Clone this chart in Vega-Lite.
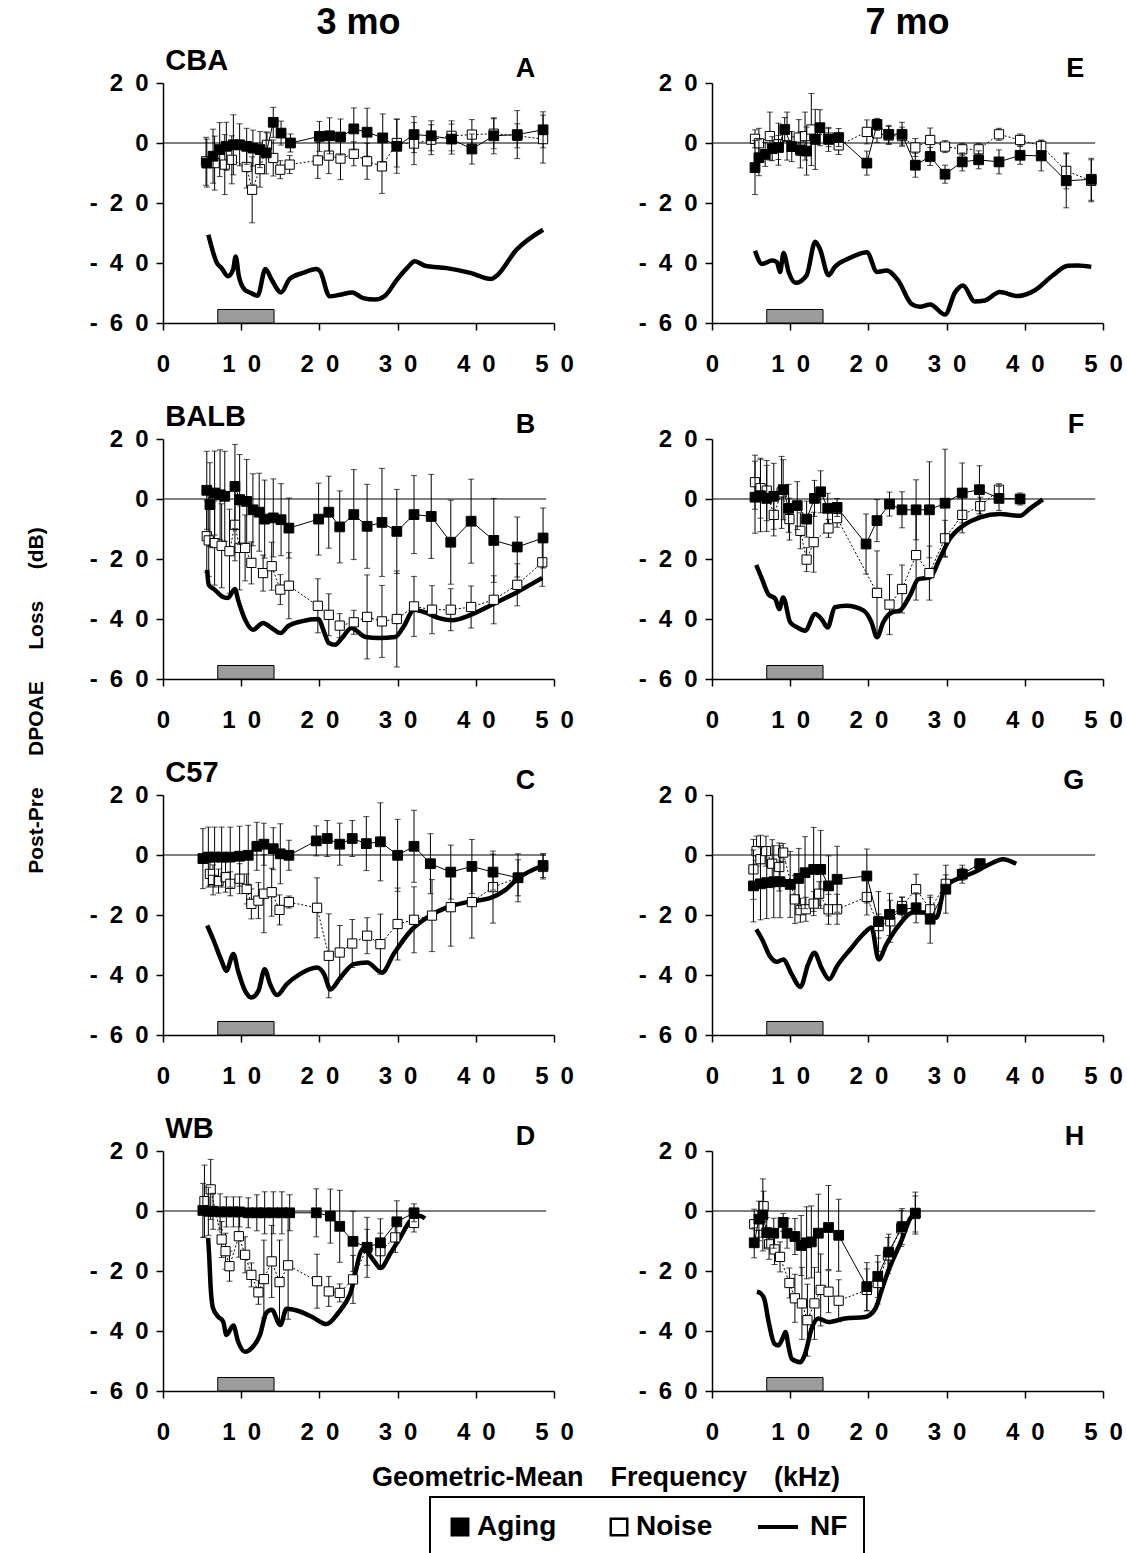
{
"$schema": "https://vega.github.io/schema/vega-lite/v6.json",
"background": "white",
"padding": {"left": 26, "top": 5, "right": 5, "bottom": 0},
"datasets": {
"panels": [
{"p":"A","age":"3 mo","strain":"CBA"},{"p":"B","age":"3 mo","strain":"BALB"},{"p":"C","age":"3 mo","strain":"C57"},{"p":"D","age":"3 mo","strain":"WB"},
{"p":"E","age":"7 mo","strain":"CBA"},{"p":"F","age":"7 mo","strain":"BALB"},{"p":"G","age":"7 mo","strain":"C57"},{"p":"H","age":"7 mo","strain":"WB"}],
"d": [
{"p":"A","s":"lab","n":"CBA","l":"A"},{"p":"B","s":"lab","n":"BALB","l":"B"},{"p":"C","s":"lab","n":"C57","l":"C"},{"p":"D","s":"lab","n":"WB","l":"D"},
{"p":"E","s":"lab","n":"","l":"E"},{"p":"F","s":"lab","n":"","l":"F"},{"p":"G","s":"lab","n":"","l":"G"},{"p":"H","s":"lab","n":"","l":"H"},

{"p":"A","s":"Aging","x":5.6,"y":-6.7,"e":8},{"p":"A","s":"Aging","x":6.4,"y":-4.4,"e":9},{"p":"A","s":"Aging","x":7.25,"y":-2.2,"e":9},{"p":"A","s":"Aging","x":8.1,"y":-1.1,"e":8},{"p":"A","s":"Aging","x":9.0,"y":-0.6,"e":10},{"p":"A","s":"Aging","x":9.8,"y":-0.6,"e":7},{"p":"A","s":"Aging","x":10.7,"y":-1.1,"e":6},{"p":"A","s":"Aging","x":11.5,"y":-1.7,"e":6},{"p":"A","s":"Aging","x":12.4,"y":-2.2,"e":6},{"p":"A","s":"Aging","x":13.2,"y":-3.3,"e":7},{"p":"A","s":"Aging","x":14.1,"y":6.9,"e":5},{"p":"A","s":"Aging","x":15.1,"y":3.3,"e":4},{"p":"A","s":"Aging","x":16.3,"y":0,"e":3},{"p":"A","s":"Aging","x":20.0,"y":2.2,"e":5},{"p":"A","s":"Aging","x":21.3,"y":2.4,"e":6},{"p":"A","s":"Aging","x":22.7,"y":2.0,"e":6},{"p":"A","s":"Aging","x":24.4,"y":4.7,"e":7},{"p":"A","s":"Aging","x":26.1,"y":3.6,"e":8},{"p":"A","s":"Aging","x":28.1,"y":1.7,"e":8},{"p":"A","s":"Aging","x":29.9,"y":-1.1,"e":9},{"p":"A","s":"Aging","x":32.1,"y":2.8,"e":6},{"p":"A","s":"Aging","x":34.3,"y":2.4,"e":5},{"p":"A","s":"Aging","x":36.9,"y":1.3,"e":5},{"p":"A","s":"Aging","x":39.5,"y":-2.0,"e":5},{"p":"A","s":"Aging","x":42.3,"y":2.4,"e":6},{"p":"A","s":"Aging","x":45.3,"y":2.8,"e":8},{"p":"A","s":"Aging","x":48.6,"y":4.4,"e":6},
{"p":"A","s":"Noise","x":5.5,"y":-6.1,"e":8},{"p":"A","s":"Noise","x":6.6,"y":-6.7,"e":9},{"p":"A","s":"Noise","x":7.9,"y":-7.2,"e":10},{"p":"A","s":"Noise","x":8.8,"y":-5.6,"e":8},{"p":"A","s":"Noise","x":10.7,"y":-8,"e":7},{"p":"A","s":"Noise","x":11.4,"y":-15.6,"e":11},{"p":"A","s":"Noise","x":12.4,"y":-8.7,"e":6},{"p":"A","s":"Noise","x":13.3,"y":-0.6,"e":4},{"p":"A","s":"Noise","x":14.1,"y":-5,"e":6},{"p":"A","s":"Noise","x":15.0,"y":-8.9,"e":3},{"p":"A","s":"Noise","x":16.2,"y":-7.2,"e":3},{"p":"A","s":"Noise","x":19.8,"y":-5.8,"e":6},{"p":"A","s":"Noise","x":21.2,"y":-4.2,"e":6},{"p":"A","s":"Noise","x":22.7,"y":-5.2,"e":7},{"p":"A","s":"Noise","x":24.4,"y":-3.6,"e":4},{"p":"A","s":"Noise","x":26.1,"y":-6.1,"e":6},{"p":"A","s":"Noise","x":28.0,"y":-7.8,"e":9},{"p":"A","s":"Noise","x":29.9,"y":0,"e":8},{"p":"A","s":"Noise","x":32.1,"y":-0.2,"e":7},{"p":"A","s":"Noise","x":34.3,"y":1.1,"e":5},{"p":"A","s":"Noise","x":36.9,"y":2.4,"e":5},{"p":"A","s":"Noise","x":39.5,"y":2.8,"e":5},{"p":"A","s":"Noise","x":42.3,"y":3.1,"e":5},{"p":"A","s":"Noise","x":45.3,"y":2.4,"e":4},{"p":"A","s":"Noise","x":48.6,"y":1.3,"e":8},
{"p":"A","s":"NF","x":5.8,"y":-30.6},{"p":"A","s":"NF","x":6.9,"y":-40},{"p":"A","s":"NF","x":7.5,"y":-41.7},{"p":"A","s":"NF","x":8.3,"y":-44.4},{"p":"A","s":"NF","x":8.96,"y":-42.2},{"p":"A","s":"NF","x":9.3,"y":-37.8},{"p":"A","s":"NF","x":9.7,"y":-44.4},{"p":"A","s":"NF","x":10.45,"y":-48.9},{"p":"A","s":"NF","x":11.1,"y":-49.8},{"p":"A","s":"NF","x":12.1,"y":-50.9},{"p":"A","s":"NF","x":13.1,"y":-42},{"p":"A","s":"NF","x":13.9,"y":-45.6},{"p":"A","s":"NF","x":15.1,"y":-49.8},{"p":"A","s":"NF","x":16.2,"y":-45.3},{"p":"A","s":"NF","x":17.9,"y":-43.3},{"p":"A","s":"NF","x":19.6,"y":-42},{"p":"A","s":"NF","x":20.1,"y":-42.8},{"p":"A","s":"NF","x":21.3,"y":-51.1},{"p":"A","s":"NF","x":22.6,"y":-50.6},{"p":"A","s":"NF","x":24.2,"y":-49.8},{"p":"A","s":"NF","x":25.6,"y":-51.7},{"p":"A","s":"NF","x":27.1,"y":-52.2},{"p":"A","s":"NF","x":28.4,"y":-50.9},{"p":"A","s":"NF","x":29.9,"y":-45.6},{"p":"A","s":"NF","x":31.2,"y":-41.7},{"p":"A","s":"NF","x":32.2,"y":-39.4},{"p":"A","s":"NF","x":33.5,"y":-40.9},{"p":"A","s":"NF","x":36.3,"y":-41.7},{"p":"A","s":"NF","x":39.3,"y":-43.3},{"p":"A","s":"NF","x":42.0,"y":-45.3},{"p":"A","s":"NF","x":42.6,"y":-44.4},{"p":"A","s":"NF","x":45.2,"y":-35.6},{"p":"A","s":"NF","x":48.6,"y":-28.9},

{"p":"E","s":"Aging","x":5.5,"y":-8.2,"e":9},{"p":"E","s":"Aging","x":6.0,"y":-4.9,"e":6},{"p":"E","s":"Aging","x":6.8,"y":-3.8,"e":4},{"p":"E","s":"Aging","x":7.7,"y":-1.9,"e":4},{"p":"E","s":"Aging","x":8.5,"y":-1.5,"e":4},{"p":"E","s":"Aging","x":9.3,"y":4.5,"e":4},{"p":"E","s":"Aging","x":10.2,"y":-1.2,"e":5},{"p":"E","s":"Aging","x":11.3,"y":-2.3,"e":6},{"p":"E","s":"Aging","x":12.1,"y":-2.7,"e":8},{"p":"E","s":"Aging","x":13.2,"y":1.2,"e":10},{"p":"E","s":"Aging","x":13.8,"y":5.1,"e":6},{"p":"E","s":"Aging","x":14.9,"y":1.2,"e":4},{"p":"E","s":"Aging","x":16.2,"y":1.8,"e":3},{"p":"E","s":"Aging","x":19.8,"y":-6.7,"e":4},{"p":"E","s":"Aging","x":21.1,"y":6.2,"e":2},{"p":"E","s":"Aging","x":22.6,"y":2.9,"e":3},{"p":"E","s":"Aging","x":24.3,"y":2.9,"e":4},{"p":"E","s":"Aging","x":26.0,"y":-7.4,"e":4},{"p":"E","s":"Aging","x":27.9,"y":-4.5,"e":3},{"p":"E","s":"Aging","x":29.8,"y":-10.4,"e":3},{"p":"E","s":"Aging","x":32.0,"y":-6.3,"e":3},{"p":"E","s":"Aging","x":34.1,"y":-5.6,"e":3},{"p":"E","s":"Aging","x":36.7,"y":-6.3,"e":4},{"p":"E","s":"Aging","x":39.4,"y":-4.1,"e":3},{"p":"E","s":"Aging","x":42.1,"y":-4.3,"e":5},{"p":"E","s":"Aging","x":45.3,"y":-12.6,"e":9},{"p":"E","s":"Aging","x":48.5,"y":-12.1,"e":7},
{"p":"E","s":"Noise","x":5.5,"y":1.4,"e":3},{"p":"E","s":"Noise","x":6.0,"y":-0.1,"e":5},{"p":"E","s":"Noise","x":7.4,"y":2.3,"e":8},{"p":"E","s":"Noise","x":8.5,"y":-0.4,"e":7},{"p":"E","s":"Noise","x":9.6,"y":2.3,"e":8},{"p":"E","s":"Noise","x":11.1,"y":1.8,"e":6},{"p":"E","s":"Noise","x":11.9,"y":2.3,"e":8},{"p":"E","s":"Noise","x":12.7,"y":4.5,"e":12},{"p":"E","s":"Noise","x":14.9,"y":1.8,"e":3},{"p":"E","s":"Noise","x":16.2,"y":-0.8,"e":3},{"p":"E","s":"Noise","x":19.8,"y":3.7,"e":4},{"p":"E","s":"Noise","x":21.1,"y":3.2,"e":3},{"p":"E","s":"Noise","x":22.6,"y":2.5,"e":3},{"p":"E","s":"Noise","x":24.3,"y":2.3,"e":3},{"p":"E","s":"Noise","x":26.0,"y":-1.5,"e":3},{"p":"E","s":"Noise","x":27.9,"y":1.0,"e":4},{"p":"E","s":"Noise","x":29.8,"y":-1.2,"e":2},{"p":"E","s":"Noise","x":32.0,"y":-2.1,"e":2},{"p":"E","s":"Noise","x":34.1,"y":-2.1,"e":2},{"p":"E","s":"Noise","x":36.7,"y":2.9,"e":2},{"p":"E","s":"Noise","x":39.4,"y":1.0,"e":2},{"p":"E","s":"Noise","x":42.1,"y":-1.0,"e":2},{"p":"E","s":"Noise","x":45.3,"y":-9.3,"e":6},{"p":"E","s":"Noise","x":48.5,"y":-12.6,"e":7},
{"p":"E","s":"NF","x":5.5,"y":-35.9},{"p":"E","s":"NF","x":6.4,"y":-40.3},{"p":"E","s":"NF","x":7.7,"y":-39.2},{"p":"E","s":"NF","x":8.3,"y":-39.7},{"p":"E","s":"NF","x":8.7,"y":-43},{"p":"E","s":"NF","x":9.15,"y":-36.7},{"p":"E","s":"NF","x":9.8,"y":-43},{"p":"E","s":"NF","x":10.7,"y":-46.6},{"p":"E","s":"NF","x":12.1,"y":-44.1},{"p":"E","s":"NF","x":13.2,"y":-32.9},{"p":"E","s":"NF","x":13.8,"y":-35.3},{"p":"E","s":"NF","x":14.9,"y":-44.1},{"p":"E","s":"NF","x":15.7,"y":-41.3},{"p":"E","s":"NF","x":17.4,"y":-38.6},{"p":"E","s":"NF","x":19.8,"y":-36.4},{"p":"E","s":"NF","x":21.1,"y":-43},{"p":"E","s":"NF","x":22.3,"y":-42.5},{"p":"E","s":"NF","x":23.8,"y":-45.8},{"p":"E","s":"NF","x":25.5,"y":-53.6},{"p":"E","s":"NF","x":26.6,"y":-54.6},{"p":"E","s":"NF","x":27.9,"y":-53.8},{"p":"E","s":"NF","x":29.8,"y":-57.2},{"p":"E","s":"NF","x":31.1,"y":-49.7},{"p":"E","s":"NF","x":32.1,"y":-47.5},{"p":"E","s":"NF","x":33.6,"y":-52.8},{"p":"E","s":"NF","x":34.9,"y":-52.5},{"p":"E","s":"NF","x":36.8,"y":-49.7},{"p":"E","s":"NF","x":39.1,"y":-51},{"p":"E","s":"NF","x":41.3,"y":-49.1},{"p":"E","s":"NF","x":43.6,"y":-44.1},{"p":"E","s":"NF","x":45.5,"y":-40.9},{"p":"E","s":"NF","x":46.8,"y":-40.8},{"p":"E","s":"NF","x":48.5,"y":-41.3},

{"p":"B","s":"Aging","x":5.6,"y":2.9,"e":13},{"p":"B","s":"Aging","x":6.0,"y":-1.9,"e":14},{"p":"B","s":"Aging","x":6.6,"y":2,"e":14},{"p":"B","s":"Aging","x":7.3,"y":1.4,"e":15},{"p":"B","s":"Aging","x":7.9,"y":0.9,"e":15},{"p":"B","s":"Aging","x":9.2,"y":4.2,"e":14},{"p":"B","s":"Aging","x":9.8,"y":-0.2,"e":15},{"p":"B","s":"Aging","x":10.7,"y":-0.8,"e":14},{"p":"B","s":"Aging","x":11.5,"y":-3.6,"e":12},{"p":"B","s":"Aging","x":12.3,"y":-4.4,"e":13},{"p":"B","s":"Aging","x":13.0,"y":-6.7,"e":13},{"p":"B","s":"Aging","x":14.1,"y":-6.3,"e":13},{"p":"B","s":"Aging","x":15.1,"y":-6.9,"e":12},{"p":"B","s":"Aging","x":16.1,"y":-9.7,"e":10},{"p":"B","s":"Aging","x":19.9,"y":-6.7,"e":12},{"p":"B","s":"Aging","x":21.2,"y":-4.4,"e":12},{"p":"B","s":"Aging","x":22.6,"y":-9.3,"e":12},{"p":"B","s":"Aging","x":24.4,"y":-5.2,"e":15},{"p":"B","s":"Aging","x":26.1,"y":-9.1,"e":14},{"p":"B","s":"Aging","x":28.0,"y":-7.8,"e":18},{"p":"B","s":"Aging","x":29.9,"y":-10.8,"e":14},{"p":"B","s":"Aging","x":32.1,"y":-5.2,"e":13},{"p":"B","s":"Aging","x":34.3,"y":-5.8,"e":14},{"p":"B","s":"Aging","x":36.8,"y":-14.4,"e":14},{"p":"B","s":"Aging","x":39.4,"y":-7.4,"e":14},{"p":"B","s":"Aging","x":42.3,"y":-13.8,"e":14},{"p":"B","s":"Aging","x":45.3,"y":-16,"e":10},{"p":"B","s":"Aging","x":48.6,"y":-13,"e":10},
{"p":"B","s":"Noise","x":5.6,"y":-12.4,"e":12},{"p":"B","s":"Noise","x":5.85,"y":-13.8,"e":12},{"p":"B","s":"Noise","x":6.6,"y":-14.7,"e":14},{"p":"B","s":"Noise","x":7.5,"y":-15.6,"e":14},{"p":"B","s":"Noise","x":8.5,"y":-17.4,"e":14},{"p":"B","s":"Noise","x":9.2,"y":-8.6,"e":12},{"p":"B","s":"Noise","x":9.8,"y":-16.3,"e":14},{"p":"B","s":"Noise","x":10.5,"y":-16.3,"e":11},{"p":"B","s":"Noise","x":11.3,"y":-21.3,"e":7},{"p":"B","s":"Noise","x":12.8,"y":-24.7,"e":6},{"p":"B","s":"Noise","x":13.9,"y":-22.4,"e":8},{"p":"B","s":"Noise","x":15.0,"y":-30.2,"e":5},{"p":"B","s":"Noise","x":16.1,"y":-28.9,"e":11},{"p":"B","s":"Noise","x":19.8,"y":-35.6,"e":9},{"p":"B","s":"Noise","x":21.2,"y":-38.6,"e":7},{"p":"B","s":"Noise","x":22.6,"y":-42.2,"e":4},{"p":"B","s":"Noise","x":24.4,"y":-41.1,"e":4},{"p":"B","s":"Noise","x":26.1,"y":-39.3,"e":14},{"p":"B","s":"Noise","x":28.0,"y":-40.8,"e":12},{"p":"B","s":"Noise","x":29.9,"y":-40,"e":16},{"p":"B","s":"Noise","x":32.1,"y":-35.8,"e":10},{"p":"B","s":"Noise","x":34.4,"y":-36.9,"e":8},{"p":"B","s":"Noise","x":36.8,"y":-36.9,"e":7},{"p":"B","s":"Noise","x":39.4,"y":-36,"e":7},{"p":"B","s":"Noise","x":42.3,"y":-33.6,"e":8},{"p":"B","s":"Noise","x":45.3,"y":-28.6,"e":7},{"p":"B","s":"Noise","x":48.5,"y":-21.1,"e":8},
{"p":"B","s":"NF","x":5.64,"y":-23.6},{"p":"B","s":"NF","x":5.85,"y":-28.6},{"p":"B","s":"NF","x":6.6,"y":-30.2},{"p":"B","s":"NF","x":7.5,"y":-32.4},{"p":"B","s":"NF","x":8.3,"y":-33},{"p":"B","s":"NF","x":9.2,"y":-30},{"p":"B","s":"NF","x":9.6,"y":-33.6},{"p":"B","s":"NF","x":10.5,"y":-40.2},{"p":"B","s":"NF","x":11.5,"y":-43.6},{"p":"B","s":"NF","x":12.8,"y":-41.3},{"p":"B","s":"NF","x":13.9,"y":-43},{"p":"B","s":"NF","x":15.0,"y":-44.7},{"p":"B","s":"NF","x":16.0,"y":-42.4},{"p":"B","s":"NF","x":17.7,"y":-40.8},{"p":"B","s":"NF","x":19.9,"y":-40},{"p":"B","s":"NF","x":20.5,"y":-43.6},{"p":"B","s":"NF","x":21.2,"y":-48},{"p":"B","s":"NF","x":22.0,"y":-48.6},{"p":"B","s":"NF","x":22.9,"y":-46.3},{"p":"B","s":"NF","x":24.1,"y":-43},{"p":"B","s":"NF","x":25.9,"y":-46},{"p":"B","s":"NF","x":27.6,"y":-46.3},{"p":"B","s":"NF","x":29.7,"y":-46},{"p":"B","s":"NF","x":30.8,"y":-42.4},{"p":"B","s":"NF","x":32.1,"y":-36.9},{"p":"B","s":"NF","x":33.5,"y":-37.8},{"p":"B","s":"NF","x":35.3,"y":-39.7},{"p":"B","s":"NF","x":37.0,"y":-40.4},{"p":"B","s":"NF","x":39.1,"y":-38.9},{"p":"B","s":"NF","x":42.1,"y":-35.2},{"p":"B","s":"NF","x":45.1,"y":-31.3},{"p":"B","s":"NF","x":48.5,"y":-26.3},

{"p":"F","s":"Aging","x":5.5,"y":0.6,"e":12},{"p":"F","s":"Aging","x":6.2,"y":1.1,"e":12},{"p":"F","s":"Aging","x":7.0,"y":0.2,"e":11},{"p":"F","s":"Aging","x":7.9,"y":0.9,"e":11},{"p":"F","s":"Aging","x":9.1,"y":3.1,"e":10},{"p":"F","s":"Aging","x":9.8,"y":-3.1,"e":8},{"p":"F","s":"Aging","x":10.9,"y":-2.2,"e":8},{"p":"F","s":"Aging","x":12.1,"y":-6.7,"e":6},{"p":"F","s":"Aging","x":13.1,"y":0.2,"e":6},{"p":"F","s":"Aging","x":13.9,"y":2.4,"e":7},{"p":"F","s":"Aging","x":14.8,"y":-3.1,"e":5},{"p":"F","s":"Aging","x":16.0,"y":-2.8,"e":3},{"p":"F","s":"Aging","x":19.7,"y":-15,"e":10},{"p":"F","s":"Aging","x":21.1,"y":-7.2,"e":7},{"p":"F","s":"Aging","x":22.7,"y":-1.7,"e":4},{"p":"F","s":"Aging","x":24.3,"y":-3.6,"e":6},{"p":"F","s":"Aging","x":26.1,"y":-3.6,"e":10},{"p":"F","s":"Aging","x":27.8,"y":-3.6,"e":16},{"p":"F","s":"Aging","x":29.8,"y":-1.4,"e":18},{"p":"F","s":"Aging","x":32.0,"y":2,"e":10},{"p":"F","s":"Aging","x":34.2,"y":3.1,"e":8},{"p":"F","s":"Aging","x":36.7,"y":0.2,"e":4},{"p":"F","s":"Aging","x":39.4,"y":0,"e":2},
{"p":"F","s":"Noise","x":5.5,"y":5.6,"e":9},{"p":"F","s":"Noise","x":6.2,"y":3.6,"e":10},{"p":"F","s":"Noise","x":7.0,"y":2.8,"e":10},{"p":"F","s":"Noise","x":7.9,"y":-5.3,"e":7},{"p":"F","s":"Noise","x":8.9,"y":2.2,"e":12},{"p":"F","s":"Noise","x":9.9,"y":-6.7,"e":7},{"p":"F","s":"Noise","x":11.3,"y":-10.6,"e":6},{"p":"F","s":"Noise","x":12.1,"y":-20.2,"e":4},{"p":"F","s":"Noise","x":13.0,"y":-14.4,"e":10},{"p":"F","s":"Noise","x":14.9,"y":-9.8,"e":3},{"p":"F","s":"Noise","x":16.0,"y":-6.4,"e":3},{"p":"F","s":"Noise","x":21.1,"y":-31.3,"e":14},{"p":"F","s":"Noise","x":22.7,"y":-35.2,"e":10},{"p":"F","s":"Noise","x":24.3,"y":-30,"e":8},{"p":"F","s":"Noise","x":26.1,"y":-18.7,"e":15},{"p":"F","s":"Noise","x":27.8,"y":-24.7,"e":9},{"p":"F","s":"Noise","x":29.8,"y":-13.1,"e":6},{"p":"F","s":"Noise","x":32.0,"y":-5.3,"e":6},{"p":"F","s":"Noise","x":34.3,"y":-2.4,"e":3},{"p":"F","s":"Noise","x":36.7,"y":3.1,"e":2},
{"p":"F","s":"NF","x":5.66,"y":-22},{"p":"F","s":"NF","x":6.4,"y":-26.7},{"p":"F","s":"NF","x":7.2,"y":-31.7},{"p":"F","s":"NF","x":8.1,"y":-33.3},{"p":"F","s":"NF","x":8.6,"y":-36.7},{"p":"F","s":"NF","x":9.1,"y":-32.8},{"p":"F","s":"NF","x":10.0,"y":-41.1},{"p":"F","s":"NF","x":10.9,"y":-42.8},{"p":"F","s":"NF","x":11.9,"y":-43.9},{"p":"F","s":"NF","x":13.2,"y":-38.3},{"p":"F","s":"NF","x":14.0,"y":-40},{"p":"F","s":"NF","x":14.8,"y":-42.8},{"p":"F","s":"NF","x":15.7,"y":-36.1},{"p":"F","s":"NF","x":17.2,"y":-35.6},{"p":"F","s":"NF","x":19.4,"y":-37.2},{"p":"F","s":"NF","x":20.4,"y":-41.1},{"p":"F","s":"NF","x":21.1,"y":-46.1},{"p":"F","s":"NF","x":21.9,"y":-41.1},{"p":"F","s":"NF","x":23.0,"y":-37.8},{"p":"F","s":"NF","x":24.0,"y":-37.2},{"p":"F","s":"NF","x":25.3,"y":-32.2},{"p":"F","s":"NF","x":26.4,"y":-26.7},{"p":"F","s":"NF","x":27.9,"y":-26.1},{"p":"F","s":"NF","x":29.1,"y":-20},{"p":"F","s":"NF","x":30.4,"y":-13.3},{"p":"F","s":"NF","x":32.1,"y":-8.9},{"p":"F","s":"NF","x":34.3,"y":-6.1},{"p":"F","s":"NF","x":36.8,"y":-5},{"p":"F","s":"NF","x":39.4,"y":-5.6},{"p":"F","s":"NF","x":40.6,"y":-3.3},{"p":"F","s":"NF","x":42.3,"y":-0.2},

{"p":"C","s":"Aging","x":5.1,"y":-1.2,"e":10},{"p":"C","s":"Aging","x":5.8,"y":-0.7,"e":10},{"p":"C","s":"Aging","x":6.6,"y":-0.7,"e":10},{"p":"C","s":"Aging","x":7.5,"y":-0.7,"e":10},{"p":"C","s":"Aging","x":8.6,"y":-0.7,"e":10},{"p":"C","s":"Aging","x":9.8,"y":-0.4,"e":10},{"p":"C","s":"Aging","x":10.9,"y":-0.1,"e":10},{"p":"C","s":"Aging","x":12.0,"y":2.9,"e":8},{"p":"C","s":"Aging","x":12.9,"y":3.6,"e":7},{"p":"C","s":"Aging","x":14.1,"y":2.1,"e":7},{"p":"C","s":"Aging","x":15.0,"y":0.4,"e":10},{"p":"C","s":"Aging","x":16.1,"y":-0.1,"e":5},{"p":"C","s":"Aging","x":19.6,"y":4.7,"e":5},{"p":"C","s":"Aging","x":21.0,"y":5.5,"e":6},{"p":"C","s":"Aging","x":22.6,"y":3.6,"e":7},{"p":"C","s":"Aging","x":24.2,"y":5.5,"e":6},{"p":"C","s":"Aging","x":26.0,"y":3.8,"e":9},{"p":"C","s":"Aging","x":27.8,"y":4.4,"e":13},{"p":"C","s":"Aging","x":30.0,"y":-0.1,"e":12},{"p":"C","s":"Aging","x":32.1,"y":2.9,"e":12},{"p":"C","s":"Aging","x":34.2,"y":-2.9,"e":10},{"p":"C","s":"Aging","x":36.8,"y":-5.7,"e":9},{"p":"C","s":"Aging","x":39.5,"y":-3.8,"e":9},{"p":"C","s":"Aging","x":42.2,"y":-5.7,"e":6},{"p":"C","s":"Aging","x":45.4,"y":-7.6,"e":6},{"p":"C","s":"Aging","x":48.6,"y":-3.5,"e":4},
{"p":"C","s":"Noise","x":6.0,"y":-6.3,"e":4},{"p":"C","s":"Noise","x":6.4,"y":-8.3,"e":5},{"p":"C","s":"Noise","x":7.1,"y":-8.7,"e":4},{"p":"C","s":"Noise","x":8.0,"y":-7.4,"e":5},{"p":"C","s":"Noise","x":8.6,"y":-9.6,"e":4},{"p":"C","s":"Noise","x":9.8,"y":-7.9,"e":5},{"p":"C","s":"Noise","x":10.7,"y":-11.3,"e":5},{"p":"C","s":"Noise","x":11.3,"y":-16.3,"e":5},{"p":"C","s":"Noise","x":12.2,"y":-15.2,"e":6},{"p":"C","s":"Noise","x":12.9,"y":-12.9,"e":13},{"p":"C","s":"Noise","x":13.9,"y":-12.4,"e":8},{"p":"C","s":"Noise","x":14.9,"y":-18.3,"e":5},{"p":"C","s":"Noise","x":16.1,"y":-15.7,"e":2},{"p":"C","s":"Noise","x":19.7,"y":-17.6,"e":10},{"p":"C","s":"Noise","x":21.2,"y":-33.6,"e":14},{"p":"C","s":"Noise","x":22.6,"y":-32.5,"e":9},{"p":"C","s":"Noise","x":24.2,"y":-29.5,"e":8},{"p":"C","s":"Noise","x":26.1,"y":-26.9,"e":6},{"p":"C","s":"Noise","x":27.8,"y":-29.7,"e":10},{"p":"C","s":"Noise","x":30.0,"y":-23,"e":12},{"p":"C","s":"Noise","x":32.1,"y":-21.6,"e":11},{"p":"C","s":"Noise","x":34.4,"y":-20.2,"e":12},{"p":"C","s":"Noise","x":36.8,"y":-17.4,"e":13},{"p":"C","s":"Noise","x":39.5,"y":-15.7,"e":12},{"p":"C","s":"Noise","x":42.2,"y":-10.7,"e":12},{"p":"C","s":"Noise","x":45.4,"y":-7.6,"e":8},{"p":"C","s":"Noise","x":48.6,"y":-4.0,"e":4},
{"p":"C","s":"NF","x":5.65,"y":-23.5},{"p":"C","s":"NF","x":6.4,"y":-28},{"p":"C","s":"NF","x":7.5,"y":-35.3},{"p":"C","s":"NF","x":8.1,"y":-38.6},{"p":"C","s":"NF","x":9.0,"y":-33},{"p":"C","s":"NF","x":9.6,"y":-38.6},{"p":"C","s":"NF","x":10.5,"y":-45.3},{"p":"C","s":"NF","x":11.3,"y":-47.5},{"p":"C","s":"NF","x":12.2,"y":-45.3},{"p":"C","s":"NF","x":13.0,"y":-38.1},{"p":"C","s":"NF","x":13.7,"y":-43.1},{"p":"C","s":"NF","x":14.6,"y":-46.7},{"p":"C","s":"NF","x":15.8,"y":-43.1},{"p":"C","s":"NF","x":17.5,"y":-39.7},{"p":"C","s":"NF","x":19.7,"y":-37.5},{"p":"C","s":"NF","x":20.6,"y":-39.7},{"p":"C","s":"NF","x":21.4,"y":-44.8},{"p":"C","s":"NF","x":22.7,"y":-40.8},{"p":"C","s":"NF","x":24.4,"y":-36.4},{"p":"C","s":"NF","x":26.1,"y":-35.8},{"p":"C","s":"NF","x":28.0,"y":-39.2},{"p":"C","s":"NF","x":29.5,"y":-33},{"p":"C","s":"NF","x":31.7,"y":-25.2},{"p":"C","s":"NF","x":33.8,"y":-20.8},{"p":"C","s":"NF","x":36.4,"y":-17.4},{"p":"C","s":"NF","x":38.9,"y":-15.7},{"p":"C","s":"NF","x":41.9,"y":-14.3},{"p":"C","s":"NF","x":43.7,"y":-11.8},{"p":"C","s":"NF","x":45.4,"y":-7.8},{"p":"C","s":"NF","x":48.6,"y":-3.5},

{"p":"G","s":"Aging","x":5.3,"y":-10.3,"e":12},{"p":"G","s":"Aging","x":6.2,"y":-9.6,"e":12},{"p":"G","s":"Aging","x":7.0,"y":-9.2,"e":12},{"p":"G","s":"Aging","x":7.9,"y":-8.9,"e":12},{"p":"G","s":"Aging","x":8.7,"y":-8.9,"e":12},{"p":"G","s":"Aging","x":10.0,"y":-9.8,"e":11},{"p":"G","s":"Aging","x":11.1,"y":-7.8,"e":10},{"p":"G","s":"Aging","x":11.9,"y":-5.9,"e":12},{"p":"G","s":"Aging","x":13.0,"y":-4.8,"e":14},{"p":"G","s":"Aging","x":13.9,"y":-4.8,"e":13},{"p":"G","s":"Aging","x":14.9,"y":-10.3,"e":10},{"p":"G","s":"Aging","x":16.0,"y":-8.1,"e":11},{"p":"G","s":"Aging","x":19.8,"y":-7,"e":9},{"p":"G","s":"Aging","x":21.3,"y":-22.2,"e":10},{"p":"G","s":"Aging","x":22.7,"y":-19.8,"e":7},{"p":"G","s":"Aging","x":24.3,"y":-18.1,"e":4},{"p":"G","s":"Aging","x":26.1,"y":-17.6,"e":5},{"p":"G","s":"Aging","x":27.9,"y":-21.4,"e":8},{"p":"G","s":"Aging","x":29.9,"y":-11.4,"e":8},{"p":"G","s":"Aging","x":32.0,"y":-6.4,"e":3},{"p":"G","s":"Aging","x":34.3,"y":-2.9,"e":1},
{"p":"G","s":"Noise","x":5.3,"y":-4.8,"e":10},{"p":"G","s":"Noise","x":5.7,"y":1.3,"e":5},{"p":"G","s":"Noise","x":6.2,"y":-1.4,"e":8},{"p":"G","s":"Noise","x":6.9,"y":1.3,"e":5},{"p":"G","s":"Noise","x":7.7,"y":-2.9,"e":8},{"p":"G","s":"Noise","x":8.6,"y":-4,"e":8},{"p":"G","s":"Noise","x":9.1,"y":0.8,"e":3},{"p":"G","s":"Noise","x":10.6,"y":-14.8,"e":8},{"p":"G","s":"Noise","x":11.3,"y":-18.4,"e":4},{"p":"G","s":"Noise","x":12.0,"y":-18.1,"e":4},{"p":"G","s":"Noise","x":13.0,"y":-16.2,"e":4},{"p":"G","s":"Noise","x":13.7,"y":-12.9,"e":4},{"p":"G","s":"Noise","x":14.9,"y":-18.1,"e":5},{"p":"G","s":"Noise","x":16.0,"y":-18.1,"e":5},{"p":"G","s":"Noise","x":19.8,"y":-14,"e":6},{"p":"G","s":"Noise","x":21.3,"y":-23.7,"e":4},{"p":"G","s":"Noise","x":22.8,"y":-22.1,"e":7},{"p":"G","s":"Noise","x":24.3,"y":-17,"e":3},{"p":"G","s":"Noise","x":26.1,"y":-11.4,"e":5},{"p":"G","s":"Noise","x":27.9,"y":-18.1,"e":4},{"p":"G","s":"Noise","x":29.9,"y":-9.6,"e":3},{"p":"G","s":"Noise","x":32.0,"y":-6.4,"e":2},{"p":"G","s":"Noise","x":34.2,"y":-2.9,"e":1},
{"p":"G","s":"NF","x":5.66,"y":-24.8},{"p":"G","s":"NF","x":6.4,"y":-28.1},{"p":"G","s":"NF","x":7.4,"y":-33.7},{"p":"G","s":"NF","x":8.3,"y":-35.6},{"p":"G","s":"NF","x":9.1,"y":-34.8},{"p":"G","s":"NF","x":10.2,"y":-39.8},{"p":"G","s":"NF","x":11.3,"y":-44},{"p":"G","s":"NF","x":12.3,"y":-36.4},{"p":"G","s":"NF","x":13.1,"y":-32.6},{"p":"G","s":"NF","x":14.0,"y":-37.6},{"p":"G","s":"NF","x":15.0,"y":-41.4},{"p":"G","s":"NF","x":16.0,"y":-37},{"p":"G","s":"NF","x":17.7,"y":-31.4},{"p":"G","s":"NF","x":19.4,"y":-26.2},{"p":"G","s":"NF","x":20.4,"y":-24.2},{"p":"G","s":"NF","x":21.3,"y":-34.8},{"p":"G","s":"NF","x":22.3,"y":-29.8},{"p":"G","s":"NF","x":24.0,"y":-23.1},{"p":"G","s":"NF","x":25.7,"y":-19.2},{"p":"G","s":"NF","x":27.4,"y":-19.2},{"p":"G","s":"NF","x":28.7,"y":-20.9},{"p":"G","s":"NF","x":29.8,"y":-10.3},{"p":"G","s":"NF","x":31.3,"y":-8.1},{"p":"G","s":"NF","x":33.4,"y":-5.9},{"p":"G","s":"NF","x":35.5,"y":-3.1},{"p":"G","s":"NF","x":37.2,"y":-1.4},{"p":"G","s":"NF","x":38.9,"y":-2.9},

{"p":"D","s":"Aging","x":5.1,"y":0.2,"e":9},{"p":"D","s":"Aging","x":5.8,"y":-0.1,"e":8},{"p":"D","s":"Aging","x":6.4,"y":-0.1,"e":6},{"p":"D","s":"Aging","x":7.3,"y":-0.3,"e":6},{"p":"D","s":"Aging","x":8.1,"y":-0.3,"e":5},{"p":"D","s":"Aging","x":9.0,"y":-0.3,"e":5},{"p":"D","s":"Aging","x":9.8,"y":-0.3,"e":5},{"p":"D","s":"Aging","x":10.9,"y":-0.6,"e":5},{"p":"D","s":"Aging","x":12.0,"y":-0.6,"e":6},{"p":"D","s":"Aging","x":13.0,"y":-0.6,"e":7},{"p":"D","s":"Aging","x":14.1,"y":-0.6,"e":7},{"p":"D","s":"Aging","x":15.2,"y":-0.6,"e":7},{"p":"D","s":"Aging","x":16.2,"y":-0.6,"e":6},{"p":"D","s":"Aging","x":19.6,"y":-0.6,"e":8},{"p":"D","s":"Aging","x":21.4,"y":-1.7,"e":9},{"p":"D","s":"Aging","x":22.6,"y":-5.1,"e":12},{"p":"D","s":"Aging","x":24.3,"y":-10.1,"e":10},{"p":"D","s":"Aging","x":26.1,"y":-12.1,"e":10},{"p":"D","s":"Aging","x":27.8,"y":-10.6,"e":8},{"p":"D","s":"Aging","x":29.9,"y":-3.6,"e":7},{"p":"D","s":"Aging","x":32.1,"y":-0.6,"e":3},
{"p":"D","s":"Noise","x":5.3,"y":3.3,"e":12},{"p":"D","s":"Noise","x":6.1,"y":7.2,"e":10},{"p":"D","s":"Noise","x":7.5,"y":-9.5,"e":6},{"p":"D","s":"Noise","x":8.0,"y":-13.4,"e":6},{"p":"D","s":"Noise","x":8.5,"y":-18.4,"e":5},{"p":"D","s":"Noise","x":9.7,"y":-8.4,"e":7},{"p":"D","s":"Noise","x":10.5,"y":-14.6,"e":6},{"p":"D","s":"Noise","x":11.3,"y":-21.3,"e":4},{"p":"D","s":"Noise","x":12.2,"y":-27.1,"e":4},{"p":"D","s":"Noise","x":12.9,"y":-22.7,"e":13},{"p":"D","s":"Noise","x":13.9,"y":-16.8,"e":12},{"p":"D","s":"Noise","x":14.9,"y":-23.7,"e":14},{"p":"D","s":"Noise","x":16.0,"y":-18.1,"e":18},{"p":"D","s":"Noise","x":19.7,"y":-23.4,"e":9},{"p":"D","s":"Noise","x":21.2,"y":-26.8,"e":5},{"p":"D","s":"Noise","x":22.6,"y":-27.3,"e":3},{"p":"D","s":"Noise","x":24.3,"y":-22.8,"e":8},{"p":"D","s":"Noise","x":26.1,"y":-12.1,"e":6},{"p":"D","s":"Noise","x":27.8,"y":-13.4,"e":6},{"p":"D","s":"Noise","x":29.7,"y":-8.8,"e":5},{"p":"D","s":"Noise","x":32.1,"y":-4,"e":3},
{"p":"D","s":"NF","x":5.77,"y":-9},{"p":"D","s":"NF","x":5.9,"y":-14.6},{"p":"D","s":"NF","x":6.1,"y":-25.7},{"p":"D","s":"NF","x":6.4,"y":-32.4},{"p":"D","s":"NF","x":7.05,"y":-35.2},{"p":"D","s":"NF","x":7.7,"y":-36.9},{"p":"D","s":"NF","x":8.1,"y":-41.3},{"p":"D","s":"NF","x":9.0,"y":-38.2},{"p":"D","s":"NF","x":9.6,"y":-43.5},{"p":"D","s":"NF","x":10.5,"y":-46.9},{"p":"D","s":"NF","x":11.3,"y":-45.8},{"p":"D","s":"NF","x":12.4,"y":-41.3},{"p":"D","s":"NF","x":13.2,"y":-34},{"p":"D","s":"NF","x":13.9,"y":-32.9},{"p":"D","s":"NF","x":15.0,"y":-38},{"p":"D","s":"NF","x":15.8,"y":-32.6},{"p":"D","s":"NF","x":17.5,"y":-33.5},{"p":"D","s":"NF","x":19.2,"y":-35.5},{"p":"D","s":"NF","x":20.9,"y":-37.7},{"p":"D","s":"NF","x":22.4,"y":-34},{"p":"D","s":"NF","x":23.9,"y":-27.9},{"p":"D","s":"NF","x":25.6,"y":-12.6},{"p":"D","s":"NF","x":26.9,"y":-16.3},{"p":"D","s":"NF","x":27.8,"y":-19},{"p":"D","s":"NF","x":29.1,"y":-14},{"p":"D","s":"NF","x":30.3,"y":-9},{"p":"D","s":"NF","x":31.6,"y":-3.4},{"p":"D","s":"NF","x":32.9,"y":-1.7},{"p":"D","s":"NF","x":33.5,"y":-2.5},

{"p":"H","s":"Aging","x":5.4,"y":-10.6,"e":5},{"p":"H","s":"Aging","x":6.0,"y":-2.7,"e":6},{"p":"H","s":"Aging","x":6.5,"y":-1.3,"e":12},{"p":"H","s":"Aging","x":7.0,"y":-7.2,"e":5},{"p":"H","s":"Aging","x":7.9,"y":-7.4,"e":5},{"p":"H","s":"Aging","x":9.1,"y":-3.8,"e":3},{"p":"H","s":"Aging","x":9.6,"y":-7.4,"e":5},{"p":"H","s":"Aging","x":10.6,"y":-8.5,"e":6},{"p":"H","s":"Aging","x":11.4,"y":-11.5,"e":10},{"p":"H","s":"Aging","x":12.1,"y":-10.6,"e":12},{"p":"H","s":"Aging","x":12.7,"y":-10.3,"e":12},{"p":"H","s":"Aging","x":13.6,"y":-7.4,"e":13},{"p":"H","s":"Aging","x":14.9,"y":-5.5,"e":14},{"p":"H","s":"Aging","x":16.2,"y":-8.1,"e":12},{"p":"H","s":"Aging","x":19.8,"y":-25.2,"e":8},{"p":"H","s":"Aging","x":21.2,"y":-21.8,"e":7},{"p":"H","s":"Aging","x":22.6,"y":-13.7,"e":6},{"p":"H","s":"Aging","x":24.3,"y":-5.2,"e":6},{"p":"H","s":"Aging","x":26.0,"y":-0.7,"e":7},
{"p":"H","s":"Noise","x":5.4,"y":-4.4,"e":5},{"p":"H","s":"Noise","x":6.0,"y":-4.9,"e":5},{"p":"H","s":"Noise","x":6.6,"y":1.6,"e":5},{"p":"H","s":"Noise","x":7.3,"y":-11.1,"e":5},{"p":"H","s":"Noise","x":8.0,"y":-12.8,"e":5},{"p":"H","s":"Noise","x":8.7,"y":-15.3,"e":5},{"p":"H","s":"Noise","x":9.9,"y":-24,"e":5},{"p":"H","s":"Noise","x":10.6,"y":-29.1,"e":8},{"p":"H","s":"Noise","x":11.5,"y":-30.8,"e":12},{"p":"H","s":"Noise","x":12.2,"y":-36.4,"e":12},{"p":"H","s":"Noise","x":13.1,"y":-30.8,"e":12},{"p":"H","s":"Noise","x":13.9,"y":-26.3,"e":12},{"p":"H","s":"Noise","x":14.9,"y":-26.9,"e":7},{"p":"H","s":"Noise","x":16.2,"y":-29.9,"e":7},{"p":"H","s":"Noise","x":19.8,"y":-26.3,"e":7},{"p":"H","s":"Noise","x":21.2,"y":-24,"e":7},{"p":"H","s":"Noise","x":22.5,"y":-14.8,"e":6},{"p":"H","s":"Noise","x":24.2,"y":-5.8,"e":6},{"p":"H","s":"Noise","x":26.0,"y":-1,"e":6},
{"p":"H","s":"NF","x":5.74,"y":-26.9},{"p":"H","s":"NF","x":6.2,"y":-27.4},{"p":"H","s":"NF","x":6.7,"y":-29.4},{"p":"H","s":"NF","x":7.2,"y":-36.4},{"p":"H","s":"NF","x":8.0,"y":-44.3},{"p":"H","s":"NF","x":8.5,"y":-44.8},{"p":"H","s":"NF","x":9.1,"y":-42},{"p":"H","s":"NF","x":9.4,"y":-40.3},{"p":"H","s":"NF","x":9.8,"y":-45.4},{"p":"H","s":"NF","x":10.2,"y":-49.3},{"p":"H","s":"NF","x":11.3,"y":-50.4},{"p":"H","s":"NF","x":11.9,"y":-47.6},{"p":"H","s":"NF","x":12.8,"y":-38.7},{"p":"H","s":"NF","x":13.6,"y":-35.8},{"p":"H","s":"NF","x":14.9,"y":-37},{"p":"H","s":"NF","x":17.0,"y":-35.8},{"p":"H","s":"NF","x":19.6,"y":-35.3},{"p":"H","s":"NF","x":20.9,"y":-32.5},{"p":"H","s":"NF","x":21.7,"y":-26.3},{"p":"H","s":"NF","x":22.6,"y":-19.6},{"p":"H","s":"NF","x":24.3,"y":-9.4},{"p":"H","s":"NF","x":25.3,"y":-2.7},{"p":"H","s":"NF","x":26.0,"y":-0.4}
]
},
"data": {"name": "d"},
"transform": [{"lookup": "p", "from": {"data": {"name": "panels"}, "key": "p", "fields": ["age", "strain"]}}],
"title": {"text": "Post-Pre\u2003\u2002DPOAE\u2003\u2002Loss\u2003\u2002(dB)", "orient": "left", "anchor": "middle", "fontSize": 21, "font": "Liberation Sans", "fontWeight": "bold", "color": "black", "offset": 42, "dx": 81},
"facet": {
  "row": {"field": "strain", "type": "nominal", "sort": ["CBA", "BALB", "C57", "WB"], "header": {"labels": false, "title": null}},
  "column": {"field": "age", "type": "nominal", "sort": ["3 mo", "7 mo"], "title": "Geometric-Mean\u2003Frequency\u2003(kHz)",
    "header": {"labelOrient": "top", "labelFontSize": 36, "labelFont": "Liberation Sans", "labelFontWeight": "bold", "labelColor": "black", "labelPadding": 41,
      "titleOrient": "bottom", "titleFontSize": 27, "titleFont": "Liberation Sans", "titleFontWeight": "bold", "titleColor": "black", "titlePadding": 64}}
},
"spacing": {"row": 116, "column": 158},
"bounds": "flush",
"resolve": {"axis": {"x": "independent", "y": "independent"}},
"spec": {
  "width": 391,
  "height": 240,
  "layer": [
    {
      "transform": [{"filter": "datum.s == 'NF'"}],
      "mark": {"type": "line", "color": "black", "strokeWidth": 4.5, "interpolate": "monotone"},
      "encoding": {
        "x": {"field": "x", "type": "quantitative", "title": null, "scale": {"domain": [0, 50], "nice": false, "zero": false},
          "axis": {"values": [0,5,10,15,20,25,30,35,40,45,50], "labelExpr": "datum.value % 10 == 0 ? join(split(toString(datum.value), ''), '\u2002') : ''"}},
        "y": {"field": "y", "type": "quantitative", "title": null, "scale": {"domain": [-60, 20], "nice": false, "zero": false},
          "axis": {"values": [-60,-50,-40,-30,-20,-10,0,10,20], "labelExpr": "datum.value % 20 != 0 ? '' : (datum.value < 0 ? '-\u2002' : '') + join(split(toString(abs(datum.value)), ''), '\u2002')"}}
      }
    },
    {
      "transform": [{"filter": "datum.s == 'lab'"}],
      "mark": {"type": "rect", "fill": "#9c9c9c", "stroke": "black", "strokeWidth": 1},
      "encoding": {
        "x": {"datum": 7, "type": "quantitative"}, "x2": {"datum": 14.2},
        "y": {"datum": -60, "type": "quantitative"}, "y2": {"datum": -55.5}
      }
    },
    {
      "transform": [{"filter": "datum.s == 'lab'"}],
      "mark": {"type": "rule", "color": "black", "strokeWidth": 1},
      "encoding": {
        "x": {"datum": 0, "type": "quantitative"}, "x2": {"datum": 49},
        "y": {"datum": 0, "type": "quantitative"}
      }
    },
    {
      "transform": [{"filter": "datum.s == 'Noise'"}],
      "mark": {"type": "errorbar", "ticks": true, "color": "black", "size": 6, "thickness": 1},
      "encoding": {
        "x": {"field": "x", "type": "quantitative", "title": null},
        "y": {"field": "y", "type": "quantitative", "title": null},
        "yError": {"field": "e"}
      }
    },
    {
      "transform": [{"filter": "datum.s == 'Noise'"}],
      "mark": {"type": "line", "color": "black", "strokeWidth": 1, "strokeDash": [2, 2]},
      "encoding": {
        "x": {"field": "x", "type": "quantitative", "title": null},
        "y": {"field": "y", "type": "quantitative", "title": null}
      }
    },
    {
      "transform": [{"filter": "datum.s == 'Noise'"}],
      "mark": {"type": "point", "filled": true, "stroke": "black", "strokeWidth": 1, "size": 85, "opacity": 1},
      "encoding": {
        "x": {"field": "x", "type": "quantitative", "title": null},
        "y": {"field": "y", "type": "quantitative", "title": null},
        "fill": {"field": "s", "type": "nominal", "scale": {"domain": ["Aging", "Noise", "NF"], "range": ["black", "white", "black"]},
          "legend": {"title": null, "columns": 3, "gridAlign": "all", "encode": {"symbols": {"update": {"stroke": {"value": "black"}, "strokeWidth": {"signal": "datum.value === 'NF' ? 4 : 2.5"}, "size": {"signal": "datum.value === 'NF' ? 1600 : 270"}}}, "labels": {"update": {"dx": {"signal": "datum.value === 'NF' ? 15 : 0"}}}}}},
        "shape": {"field": "s", "type": "nominal", "scale": {"domain": ["Aging", "Noise", "NF"], "range": ["square", "square", "stroke"]},
          "legend": {"title": null, "columns": 3, "gridAlign": "all", "encode": {"symbols": {"update": {"stroke": {"value": "black"}, "strokeWidth": {"signal": "datum.value === 'NF' ? 4 : 2.5"}, "size": {"signal": "datum.value === 'NF' ? 1600 : 270"}}}, "labels": {"update": {"dx": {"signal": "datum.value === 'NF' ? 15 : 0"}}}}}}
      }
    },
    {
      "transform": [{"filter": "datum.s == 'Aging'"}],
      "mark": {"type": "errorbar", "ticks": true, "color": "black", "size": 6, "thickness": 1},
      "encoding": {
        "x": {"field": "x", "type": "quantitative", "title": null},
        "y": {"field": "y", "type": "quantitative", "title": null},
        "yError": {"field": "e"}
      }
    },
    {
      "transform": [{"filter": "datum.s == 'Aging'"}],
      "mark": {"type": "line", "color": "black", "strokeWidth": 1},
      "encoding": {
        "x": {"field": "x", "type": "quantitative", "title": null},
        "y": {"field": "y", "type": "quantitative", "title": null}
      }
    },
    {
      "transform": [{"filter": "datum.s == 'Aging'"}],
      "mark": {"type": "point", "filled": true, "stroke": "black", "strokeWidth": 1, "size": 95, "opacity": 1},
      "encoding": {
        "x": {"field": "x", "type": "quantitative", "title": null},
        "y": {"field": "y", "type": "quantitative", "title": null},
        "fill": {"field": "s", "type": "nominal", "scale": {"domain": ["Aging", "Noise", "NF"], "range": ["black", "white", "black"]},
          "legend": {"title": null, "columns": 3, "gridAlign": "all", "encode": {"symbols": {"update": {"stroke": {"value": "black"}, "strokeWidth": {"signal": "datum.value === 'NF' ? 4 : 2.5"}, "size": {"signal": "datum.value === 'NF' ? 1600 : 270"}}}, "labels": {"update": {"dx": {"signal": "datum.value === 'NF' ? 15 : 0"}}}}}},
        "shape": {"field": "s", "type": "nominal", "scale": {"domain": ["Aging", "Noise", "NF"], "range": ["square", "square", "stroke"]},
          "legend": {"title": null, "columns": 3, "gridAlign": "all", "encode": {"symbols": {"update": {"stroke": {"value": "black"}, "strokeWidth": {"signal": "datum.value === 'NF' ? 4 : 2.5"}, "size": {"signal": "datum.value === 'NF' ? 1600 : 270"}}}, "labels": {"update": {"dx": {"signal": "datum.value === 'NF' ? 15 : 0"}}}}}}
      }
    },
    {
      "transform": [{"filter": "datum.s == 'lab'"}],
      "mark": {"type": "text", "align": "left", "baseline": "alphabetic", "font": "Liberation Sans", "fontWeight": "bold", "fontSize": 29, "color": "black"},
      "encoding": {
        "x": {"datum": 0.3, "type": "quantitative"},
        "y": {"datum": 24.3, "type": "quantitative"},
        "text": {"field": "n"}
      }
    },
    {
      "transform": [{"filter": "datum.s == 'lab'"}],
      "mark": {"type": "text", "align": "right", "baseline": "alphabetic", "font": "Liberation Sans", "fontWeight": "bold", "fontSize": 27, "color": "black"},
      "encoding": {
        "x": {"datum": 47.6, "type": "quantitative"},
        "y": {"datum": 22, "type": "quantitative"},
        "text": {"field": "l"}
      }
    }
  ]
},
"config": {
  "view": {"stroke": null},
  "font": "Liberation Sans",
  "axis": {"grid": false, "domainColor": "black", "domainWidth": 1.5, "tickColor": "black", "tickWidth": 1.5, "tickSize": 7,
    "labelFont": "Liberation Sans", "labelFontSize": 24, "labelFontWeight": "bold", "labelColor": "black", "labelOverlap": false, "labelFlush": false, "title": null},
  "axisX": {"labelPadding": 22},
  "axisY": {"labelPadding": 8},
  "legend": {"orient": "none", "legendX": 267, "legendY": 1414, "direction": "horizontal", "strokeColor": "black", "strokeWidth": 2, "padding": 16, "fillColor": "white",
    "labelFont": "Liberation Sans", "labelFontSize": 28, "labelFontWeight": "bold", "labelColor": "black", "symbolSize": 270, "symbolStrokeColor": "black", "symbolStrokeWidth": 2.5, "columnPadding": 34, "labelOffset": 3, "symbolOpacity": 1}
}
}
